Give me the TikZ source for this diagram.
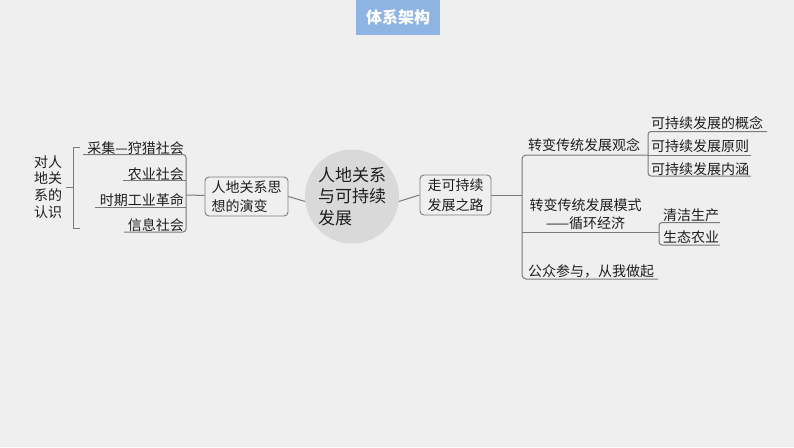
\documentclass[tikz,border=0pt]{standalone}
\usepackage{fontspec}
\setmainfont{Noto Sans CJK SC}
\definecolor{bg}{HTML}{EFEFEF}
\definecolor{titleblue}{HTML}{8EB4E3}
\definecolor{ink}{HTML}{1E1E1E}
\definecolor{linec}{HTML}{7A7A7A}
\definecolor{boxc}{HTML}{7F7F7F}
\definecolor{circ}{HTML}{D9D9D9}
\begin{document}
\begin{tikzpicture}[x=1pt,y=-1pt,
  txt/.style={inner sep=0pt, text=ink, font=\fontsize{14}{17}\selectfont},
  ln/.style={draw=linec, line width=1pt},
  box/.style={draw=boxc, line width=0.9pt, rounded corners=4pt, fill=bg, align=left,
    inner sep=0pt, text=ink, font=\fontsize{14}{19}\selectfont}]
\fill[bg] (0,0) rectangle (794,447);
\useasboundingbox (0,0) rectangle (794,447);

% title
\node[fill=titleblue, minimum width=84pt, minimum height=35pt, inner sep=0pt, text=white,
  font=\fontsize{16}{16}\selectfont\bfseries] (title) at (398,17.5) {体系架构};

% left part
\node[txt, align=center, font=\fontsize{14}{16.7}\selectfont] (rz) at (48,187) {对人\\地关\\系的\\认识};
\coordinate (lbm) at (73,187);
\draw[ln, shorten <=4pt] (rz.east) -- (lbm);
\draw[ln] (80,147) -- (73,147) -- (73,228) -- (80,228);

\node[txt, anchor=east] (i1) at (184,148) {采集—狩猎社会};
\node[txt, anchor=east] (i2) at (184,174) {农业社会};
\node[txt, anchor=east] (i3) at (184,200) {时期工业革命};
\node[txt, anchor=east] (i4) at (184,225) {信息社会};
\draw[ln, rounded corners=3pt] (83,154.5) -- (186,154.5) -- (186,232) -- (124,232);
\draw[ln] (123,180) -- (186,180);
\draw[ln] (95,207) -- (186,207);
\coordinate (lj) at (186,195);

\node[box, minimum width=83pt, minimum height=39pt] (b1) at (246.5,196.5) {人地关系思\\想的演变};
\draw[ln] (lj) -- (b1);

% centre
\node[circle, fill=circ, minimum size=94pt, inner sep=0pt, align=left, text=ink,
  font=\fontsize{17}{21.5}\selectfont] (c) at (352,196.5) {人地关系\\与可持续\\发展};
\draw[ln] (b1.east) -- (c.186);

\node[box, minimum width=71pt, minimum height=40pt, font=\fontsize{14}{19.5}\selectfont] (b2) at (455.5,195) {走可持续\\发展之路};
\draw[ln] (c.354) -- (b2.west);
\coordinate (rj) at (522,195);
\draw[ln] (b2.east) -- (rj);

% right part
\draw[ln, rounded corners=4pt] (648,155) -- (522,155) -- (522,279) -- (658,279);
\draw[ln] (522,232.5) -- (659,232.5);
\node[txt, anchor=west] (r1) at (528,145) {转变传统发展观念};
\node[txt, align=center, font=\fontsize{14}{18}\selectfont] (r2) at (585.5,214) {转变传统发展模式\\——循环经济};
\node[txt, anchor=west] (r3) at (528,271) {公众参与，从我做起};

\draw[ln, rounded corners=3pt] (767,131.5) -- (648,131.5) -- (648,176) -- (751,176);
\draw[ln] (648,155) -- (751,155);
\node[txt, anchor=west] (s1) at (651,123) {可持续发展的概念};
\node[txt, anchor=west] (s2) at (651,146) {可持续发展原则};
\node[txt, anchor=west] (s3) at (651,169) {可持续发展内涵};

\draw[ln, rounded corners=3pt] (720,222.5) -- (659,222.5) -- (659,245) -- (720,245);
\node[txt, anchor=west] (t1) at (663,215) {清洁生产};
\node[txt, anchor=west] (t2) at (663,237) {生态农业};
\end{tikzpicture}
\end{document}
